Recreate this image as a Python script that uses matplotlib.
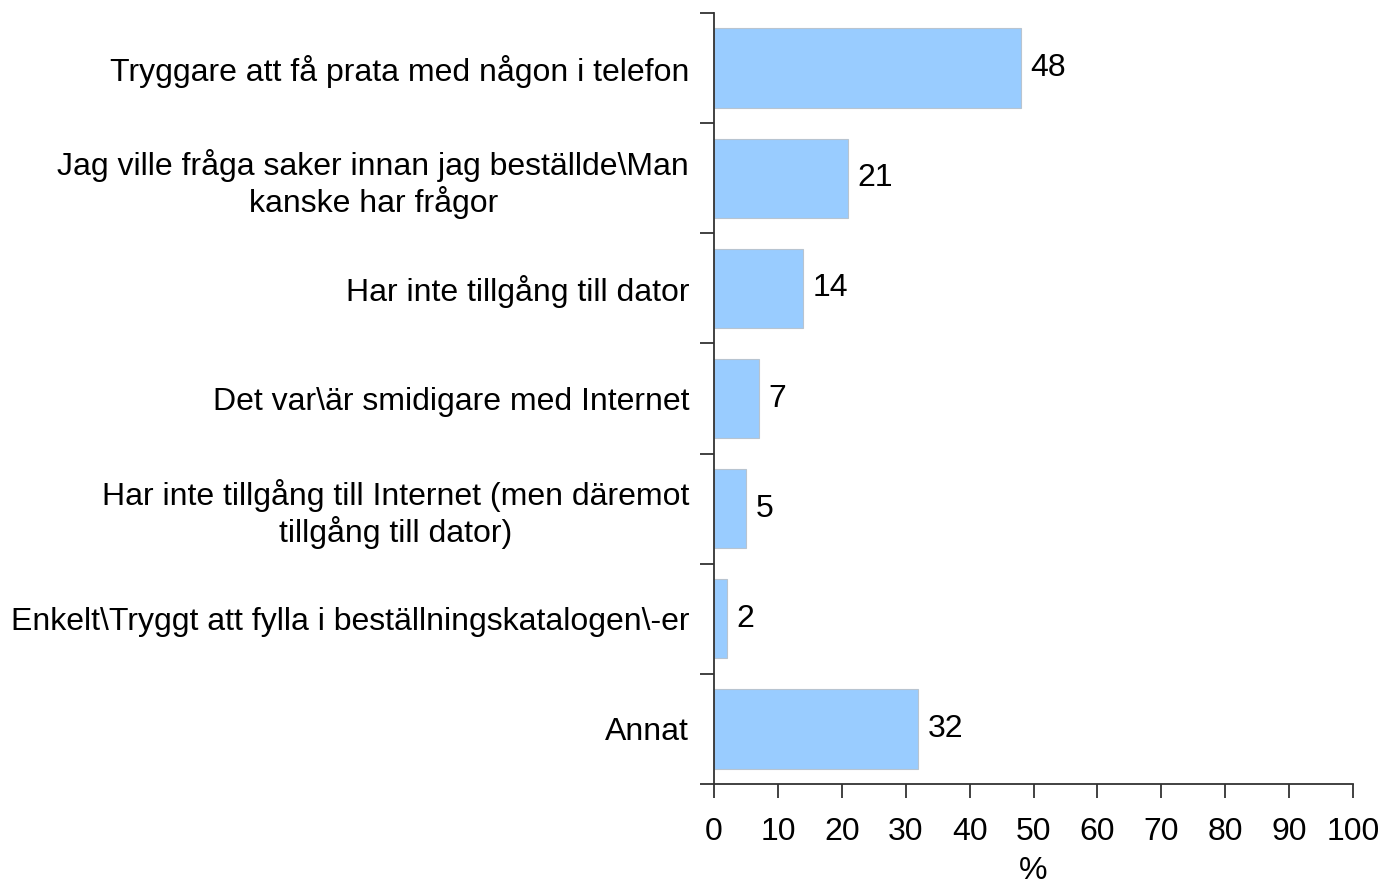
import matplotlib.pyplot as plt

plt.rcParams["font.family"] = ["Liberation Sans", "DejaVu Sans"]

categories = [
    "Tryggare att få prata med någon i telefon",
    "Jag ville fråga saker innan jag beställde\\Man\nkanske har frågor",
    "Har inte tillgång till dator",
    "Det var\\är smidigare med Internet",
    "Har inte tillgång till Internet (men däremot\ntillgång till dator)",
    "Enkelt\\Tryggt att fylla i beställningskatalogen\\-er",
    "Annat",
]
values = [48, 21, 14, 7, 5, 2, 32]
x_ticks = list(range(0, 101, 10))

BAR_COLOR = "#99CCFF"
AXIS_COLOR = "#333333"
FS = 23

fig = plt.figure(figsize=(13.84, 8.86), dpi=100)
ax = fig.add_axes([0.5159, 0.1151, 0.4617, 0.8702])

pos = list(range(len(categories)))
ax.barh(pos, values, height=0.72, color=BAR_COLOR,
        edgecolor="#b8c4d0", linewidth=0.8, zorder=2)

for y, v in zip(pos, values):
    ax.text(v + 1.5, y, f"{v}", va="center", ha="left", fontsize=FS)

ax.set_xlim(0, 100)
ax.set_ylim(len(categories) - 0.5, -0.5)
ax.set_xticks(x_ticks)
ax.set_xticklabels([str(t) for t in x_ticks], fontsize=FS)

# category labels sit between boundary ticks
ax.set_yticks(pos)
ax.set_yticklabels(categories, fontsize=FS, multialignment="center",
                   linespacing=1.15)
ax.tick_params(axis="y", length=0, pad=18)
ax.set_yticks([p - 0.5 for p in pos] + [len(pos) - 0.5], minor=True)
ax.tick_params(axis="y", which="minor", length=10, width=1.3,
               color=AXIS_COLOR, direction="out")
ax.tick_params(axis="x", length=10, width=1.3, color=AXIS_COLOR,
               direction="out", pad=14)

ax.set_xlabel("%", fontsize=FS, labelpad=6)

for side in ["top", "right"]:
    ax.spines[side].set_visible(False)
for side in ["left", "bottom"]:
    ax.spines[side].set_color(AXIS_COLOR)
    ax.spines[side].set_linewidth(1.3)

fig.savefig("out.png", dpi=100)
